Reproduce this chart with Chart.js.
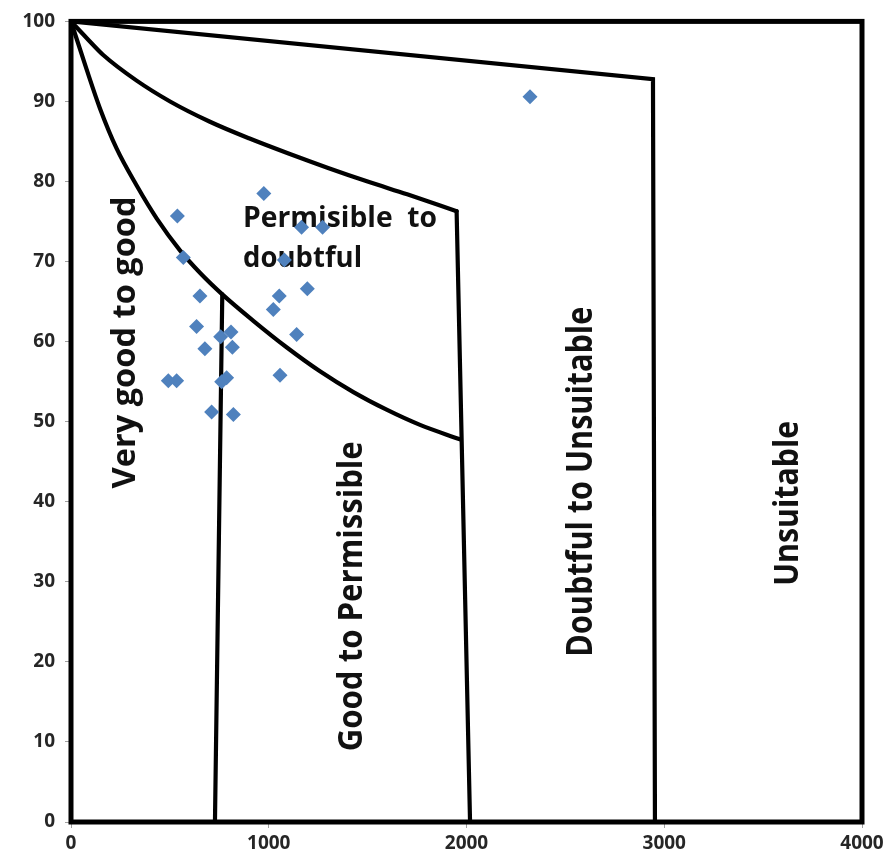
<!DOCTYPE html>
<html>
<head>
<meta charset="utf-8">
<script src="https://cdn.jsdelivr.net/npm/chart.js@4.4.1/dist/chart.umd.min.js"></script>
<style>
  html, body { margin: 0; padding: 0; background: #ffffff; }
  #wrap { width: 891px; height: 866px; }
</style>
</head>
<body>
<div id="wrap"><canvas id="c" width="891" height="866"></canvas></div>
<script>
// ---- Tick labels ----
const xTicks = [0, 1000, 2000, 3000, 4000];
const yTicks = [0, 10, 20, 30, 40, 50, 60, 70, 80, 90, 100];

// ---- Sample points (EC vs %Na) ----
const sampleEC = [2321, 975, 538, 1166, 1272, 568, 1079, 652, 1053, 1195, 1023, 635, 809, 757, 1141, 677, 816, 492, 534, 762, 787, 1057, 711, 821];
const sampleNa = [90.6, 78.5, 75.7, 74.3, 74.3, 70.5, 70.2, 65.7, 65.7, 66.6, 64.0, 61.9, 61.2, 60.6, 60.9, 59.1, 59.3, 55.1, 55.1, 55.0, 55.5, 55.8, 51.2, 50.9];

// ---- Boundary lines ----
const topLineX = [0, 2943, 2953];
const topLineY = [100, 92.8, 0];

const midCurveX = [0, 80, 163, 332, 501, 700, 900, 1100, 1300, 1500, 1700, 1950];
const midCurveY = [100, 97.9, 95.8, 92.6, 90.0, 87.5, 85.4, 83.5, 81.7, 80.0, 78.4, 76.3];
const midVertX = [1950, 2018];
const midVertY = [76.3, 0];

const lowCurveX = [0, 79, 147, 231, 332, 433, 551, 652, 765, 922, 1090, 1259, 1428, 1596, 1765, 1967];
const lowCurveY = [100, 94.0, 89.1, 84.1, 79.5, 75.4, 71.4, 68.6, 65.9, 62.6, 59.3, 56.3, 53.7, 51.5, 49.6, 47.8];
const lowVertX = [765, 728];
const lowVertY = [65.9, 0];

// ---- Region labels ----
const regionText = ['Very good to good', 'Good to Permissible', 'Doubtful to Unsuitable', 'Unsuitable', 'Permisible  to', 'doubtful'];
const regionX = [324, 1472, 2635, 3676, 870, 870];
const regionY = [59.9, 28.2, 42.5, 39.8, 74.3, 69.3];

function zip(xs, ys) { return xs.map((x, i) => ({ x: x, y: ys[i] })); }

function lineDs(xs, ys, tension) {
  return {
    type: 'scatter',
    data: zip(xs, ys),
    showLine: true,
    borderColor: '#000000',
    borderWidth: 4.2,
    pointRadius: 0,
    fill: false,
    tension: tension,
    cubicInterpolationMode: tension > 0 ? 'monotone' : 'default',
    borderCapStyle: 'round',
    borderJoinStyle: 'miter',
    order: 2
  };
}

const labelStyle = [
  { rot: true, len: 292, asc: 25 },
  { rot: true, len: 310, asc: 26 },
  { rot: true, len: 350, asc: 28 },
  { rot: true, len: 165, asc: 26 },
  { rot: false, len: 194, asc: 23 },
  { rot: false, len: 119, asc: 23 }
];

const framePlugin = {
  id: 'frameAndLabels',
  beforeDatasetsDraw(chart) {
    const { ctx, scales } = chart;
    ctx.save();
    const fs = 28;
    ctx.font = 'bold ' + fs + 'px "Open Sans"';
    ctx.fillStyle = '#111111';
    regionText.forEach((t, i) => {
      const st = labelStyle[i];
      const px = scales.x.getPixelForValue(regionX[i]);
      const py = scales.y.getPixelForValue(regionY[i]);
      const m = ctx.measureText(t);
      const along = st.len / m.width;
      const across = st.asc / m.actualBoundingBoxAscent;
      ctx.save();
      ctx.translate(px, py);
      ctx.textBaseline = 'alphabetic';
      if (st.rot) {
        ctx.scale(across, along);
        ctx.rotate(-Math.PI / 2);
        ctx.textAlign = 'center';
      } else {
        ctx.scale(along, across);
        ctx.textAlign = 'left';
      }
      ctx.fillText(t, 0, 0);
      ctx.restore();
    });
    ctx.restore();
  },
  afterDatasetsDraw(chart) {
    const { ctx, chartArea: a } = chart;
    ctx.save();
    ctx.strokeStyle = '#000000';
    ctx.lineWidth = 5;
    ctx.lineJoin = 'miter';
    ctx.strokeRect(a.left, a.top, a.right - a.left, a.bottom - a.top);
    ctx.restore();
  }
};

const tickFont = { family: '"Open Sans"', size: 19, weight: 'bold' };

new Chart(document.getElementById('c'), {
  type: 'scatter',
  data: {
    datasets: [
      {
        label: 'Samples',
        data: zip(sampleEC, sampleNa),
        pointStyle: 'rectRot',
        pointRadius: 7.5,
        pointBackgroundColor: '#4F81BD',
        pointBorderColor: '#4F81BD',
        pointBorderWidth: 0,
        showLine: false,
        order: 1
      },
      lineDs(topLineX, topLineY, 0),
      lineDs(midCurveX, midCurveY, 0.4),
      lineDs(midVertX, midVertY, 0),
      lineDs(lowCurveX, lowCurveY, 0.4),
      lineDs(lowVertX, lowVertY, 0)
    ]
  },
  options: {
    responsive: false,
    animation: false,
    events: [],
    layout: { padding: { top: 17, right: 29, left: 0, bottom: 0 } },
    plugins: { legend: { display: false }, tooltip: { enabled: false } },
    scales: {
      x: {
        type: 'linear',
        min: 0, max: 4000,
        afterBuildTicks: s => { s.ticks = xTicks.map(v => ({ value: v })); },
        afterFit: s => { s.height = 44; },
        ticks: { font: tickFont, color: '#262626', padding: 4, maxRotation: 0, callback: v => String(v) },
        grid: { display: true, drawOnChartArea: false, drawTicks: true, tickLength: 6, color: '#a0a0a0', lineWidth: 1 },
        border: { display: false }
      },
      y: {
        type: 'linear',
        min: 0, max: 100,
        afterBuildTicks: s => { s.ticks = yTicks.map(v => ({ value: v })); },
        afterFit: s => { s.width = 71; },
        ticks: { font: tickFont, color: '#262626', padding: 10, callback: v => String(v) },
        grid: { display: true, drawOnChartArea: false, drawTicks: true, tickLength: 6, color: '#a0a0a0', lineWidth: 1 },
        border: { display: false }
      }
    }
  },
  plugins: [framePlugin]
});
</script>
</body>
</html>
